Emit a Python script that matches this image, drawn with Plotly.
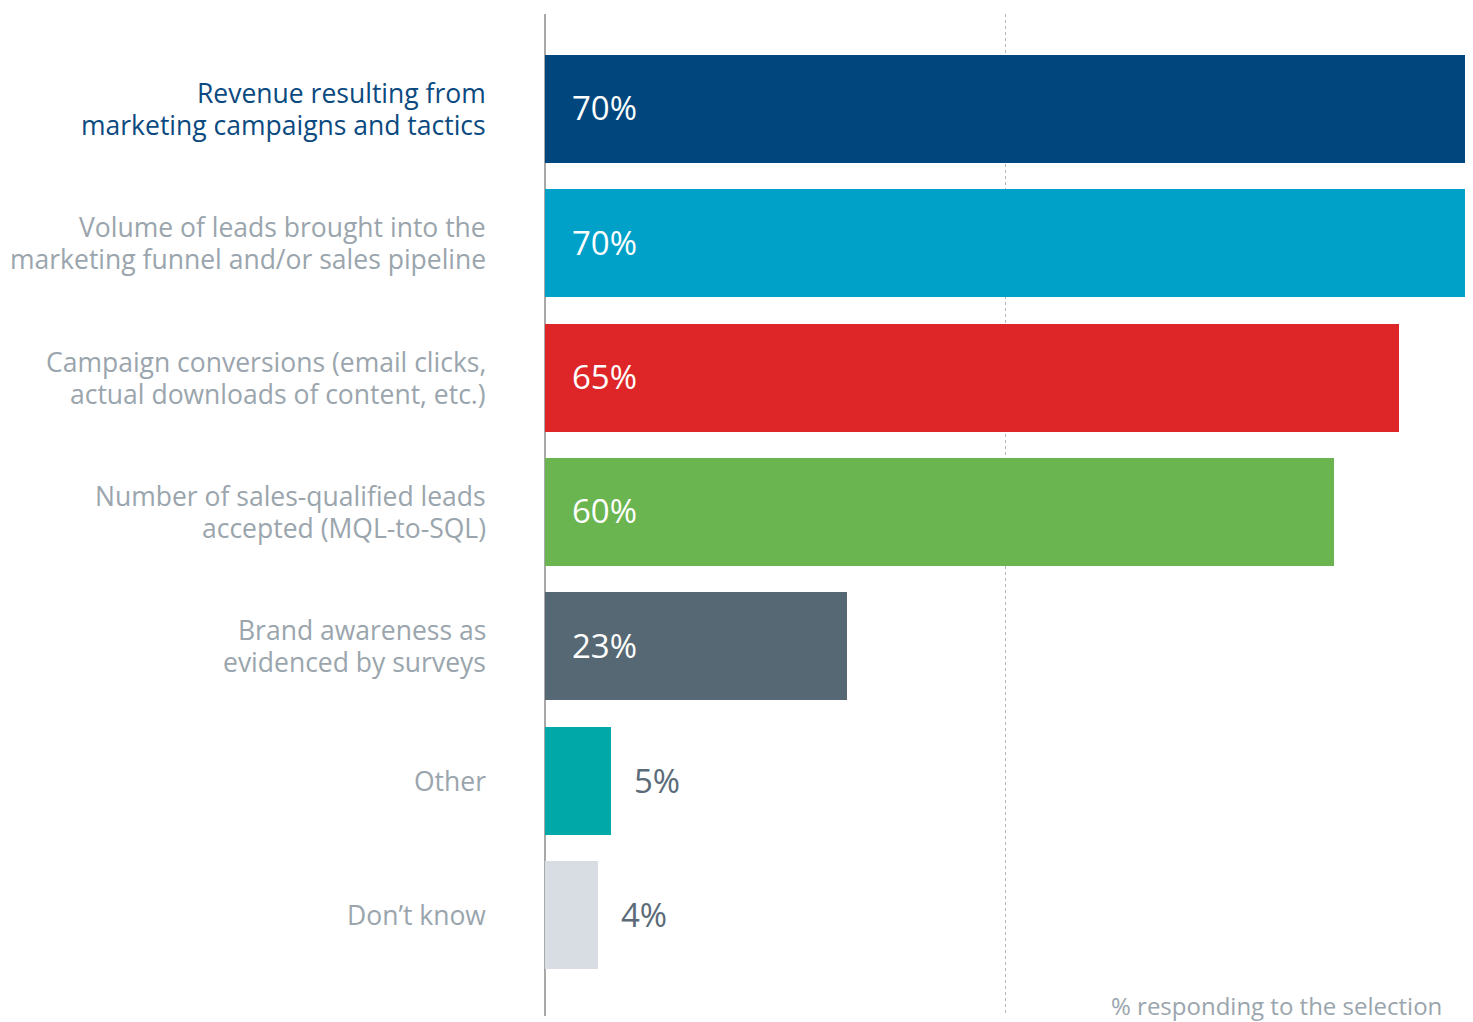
import plotly.graph_objects as go

categories = [
    "Revenue resulting from<br>marketing campaigns and tactics",
    "Volume of leads brought into the<br>marketing funnel and/or sales pipeline",
    "Campaign conversions (email clicks,<br>actual downloads of content, etc.)",
    "Number of sales-qualified leads<br>accepted (MQL-to-SQL)",
    "Brand awareness as<br>evidenced by surveys",
    "Other",
    "Don\u2019t know",
]
values = [70, 70, 65, 60, 23, 5, 4]
bar_colors = ["#01477d", "#00a1c9", "#de2527", "#6ab550", "#566874", "#00a8a8", "#d8dde4"]
label_colors = ["#0b4a80"] + ["#9aa5ad"] * 6
inside = [True, True, True, True, True, False, False]
axis_note = "% responding to the selection"

FONT = "Open Sans"
ypos = list(range(len(categories)))

fig = go.Figure()
fig.add_trace(go.Bar(
    x=values, y=ypos, orientation="h",
    marker=dict(color=bar_colors, line=dict(width=0)),
    width=0.804, hoverinfo="skip", showlegend=False,
))

LINE = 32
annotations = []
for i, (cat, v) in enumerate(zip(categories, values)):
    lines = cat.split("<br>")
    n = len(lines)
    for k, ln in enumerate(lines):
        annotations.append(dict(
            xref="paper", yref="y", x=0, y=i, xanchor="right", yanchor="middle",
            xshift=-57, yshift=((n - 1) / 2 - k) * LINE, text=ln, align="right",
            showarrow=False,
            font=dict(family=FONT, size=26.5, color=label_colors[i]),
        ))
    if inside[i]:
        annotations.append(dict(
            xref="x", yref="y", x=0, y=i, xanchor="left", yanchor="middle",
            xshift=25, yshift=1, text=f"{v}%", showarrow=False,
            font=dict(family=FONT, size=33, color="#ffffff"),
        ))
    else:
        annotations.append(dict(
            xref="x", yref="y", x=v, y=i, xanchor="left", yanchor="middle",
            xshift=21, text=f"{v}%", showarrow=False,
            font=dict(family=FONT, size=33, color="#5b6b78"),
        ))

annotations.append(dict(
    xref="paper", yref="paper", x=1, y=0, xanchor="right", yanchor="middle",
    xshift=-21, yshift=11, text=axis_note, showarrow=False,
    font=dict(family=FONT, size=24, color="#9aa5ad"),
))

fig.update_layout(
    width=1473, height=1022,
    margin=dict(l=545, r=8, t=14, b=6),
    paper_bgcolor="white", plot_bgcolor="white",
    font=dict(family=FONT),
    annotations=annotations,
    bargap=0,
    xaxis=dict(
        range=[0, 70], dtick=35, showgrid=True, griddash="dot",
        gridcolor="#b5b5b5", gridwidth=1, showticklabels=False,
        zeroline=True, zerolinecolor="#a8a8a8", zerolinewidth=1.5,
        fixedrange=True,
    ),
    yaxis=dict(
        range=[6.752, -0.707], showticklabels=False, showgrid=False,
        zeroline=False, fixedrange=True,
    ),
)

fig.write_html("out.html")
